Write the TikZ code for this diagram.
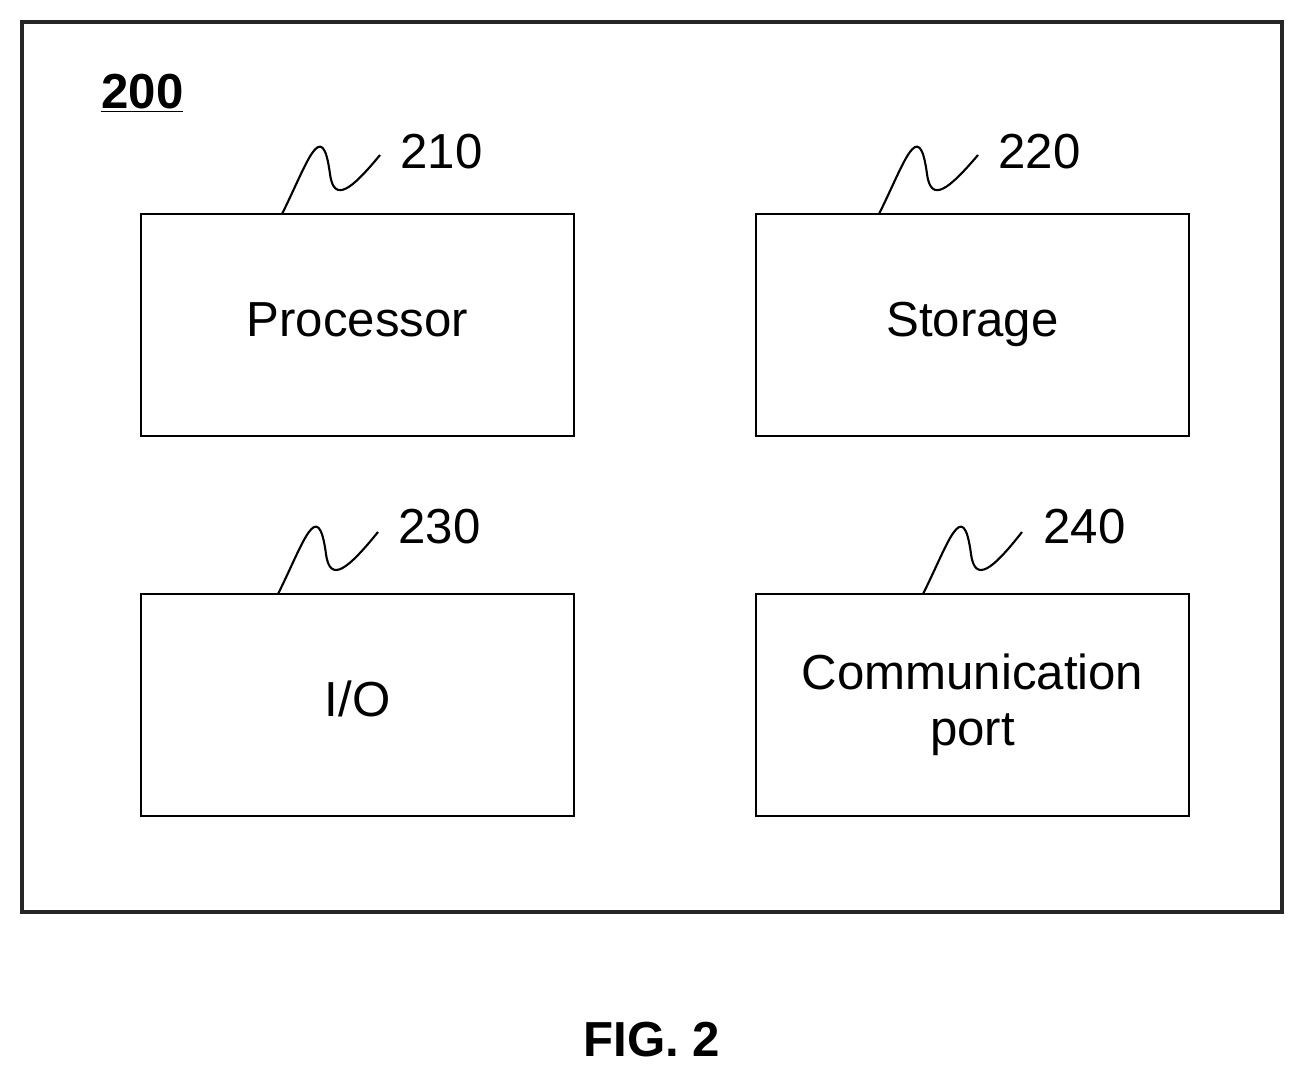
\documentclass[tikz,border=0pt]{standalone}
\usepackage{fontspec}
\setmainfont{Liberation Sans}
\usetikzlibrary{calc}
\begin{document}
\begin{tikzpicture}[x=0.02cm,y=-0.02cm,
  box/.style={draw,line width=1.6pt,minimum width=8.66cm,minimum height=4.44cm,align=center,font=\fontsize{28}{32}\selectfont,inner sep=0},
  lab/.style={font=\fontsize{28}{32}\selectfont,anchor=west,inner sep=0},
  sq/.style={line width=1.2pt}]
\useasboundingbox (0,0) rectangle (1304,1076);
\draw[line width=2.2pt,black!85] (22,22) rectangle (1282,912);
\node[anchor=west,inner sep=0,font=\fontsize{28}{32}\selectfont\bfseries] (t200) at (101,93) {\underline{200}};
\node[box] (p) at (357.5,325) {\strut Processor};
\node[box] (s) at (972.5,325) {\strut Storage};
\node[box] (io) at (357.5,705) {\strut I/O};
\node[box] (c) at (972.5,705) {Communication\\port};
\coordinate (a1) at (282,214); \coordinate (b1) at (380,155);
\coordinate (a2) at (879,214); \coordinate (b2) at (978,155);
\coordinate (a3) at (278,594); \coordinate (b3) at (378,532);
\coordinate (a4) at (923,594); \coordinate (b4) at (1022,532);
\foreach \a/\b in {a1/b1,a2/b2,a3/b3,a4/b4}{
 \draw[sq] (\a) .. controls ($(\a)+(25,-50)$) and ($(\a)+(40,-100)$) .. ($(\a)+(48,-40)$)
   .. controls ($(\a)+(52,-10)$) and ($(\a)+(70,-25)$) .. (\b);}
\node[lab] (l1) at (400,152) {210};
\node[lab] (l2) at (998,152) {220};
\node[lab] (l3) at (398,527) {230};
\node[lab] (l4) at (1043,527) {240};
\node[font=\fontsize{28}{32}\selectfont\bfseries] (fig) at (652,1040) {FIG. 2};
\end{tikzpicture}
\end{document}
